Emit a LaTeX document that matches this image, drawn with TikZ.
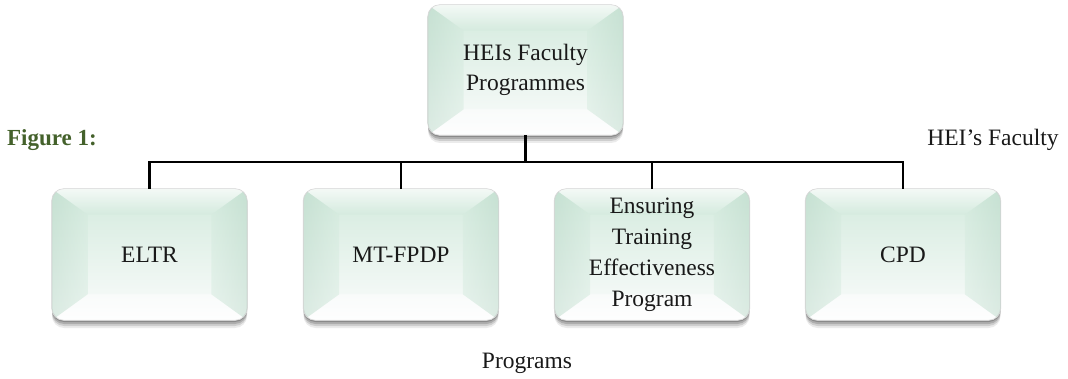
\documentclass[tikz,border=0pt]{standalone}
\usepackage{fontspec}
\setmainfont{Liberation Serif}
\usetikzlibrary{shadows,calc}
\definecolor{mintTop}{HTML}{D3EADD}
\definecolor{mintBot}{HTML}{FBFCFC}
\definecolor{mintSide}{HTML}{B6D6C5}
\definecolor{figgreen}{HTML}{44612B}
\tikzset{
  hbox/.style={rounded corners=12pt, top color=mintTop, bottom color=mintBot,
    draw=black!15, line width=0.6pt, align=center, inner sep=0pt,
    minimum width=195pt, minimum height=131pt,
    font=\fontsize{23.5}{31}\selectfont, text=black!90,
    drop shadow={shadow xshift=0pt, shadow yshift=-8pt, opacity=.08, fill=black},
    drop shadow={shadow xshift=0pt, shadow yshift=-6pt, opacity=.12, fill=black},
    drop shadow={shadow xshift=0pt, shadow yshift=-4pt, opacity=.16, fill=black},
    drop shadow={shadow xshift=0pt, shadow yshift=-2pt, opacity=.20, fill=black}},
  conn/.style={draw=black, line width=2.6pt},
  plain/.style={font=\fontsize{23.5}{28}\selectfont, text=black!90, inner sep=0pt},
  figlabel/.style={font=\fontsize{23}{28}\selectfont\bfseries, text=figgreen, inner sep=0pt}
}
\newcommand{\bevelbox}[1]{%
  \begin{scope}
    \clip[rounded corners=12pt] (#1.south west) rectangle (#1.north east);
    \shade[top color=white, bottom color=mintTop, fill opacity=.75] (#1.north west) -- (#1.north east) -- ($(#1.north east)+(-36,26)$) -- ($(#1.north west)+(36,26)$) -- cycle;
    \shade[top color=mintBot, bottom color=white, fill opacity=.8] (#1.south west) -- (#1.south east) -- ($(#1.south east)+(-36,-26)$) -- ($(#1.south west)+(36,-26)$) -- cycle;
    \shade[left color=mintSide, right color=mintTop, fill opacity=.45] (#1.north west) -- ($(#1.north west)+(36,26)$) -- ($(#1.south west)+(36,-26)$) -- (#1.south west) -- cycle;
    \shade[left color=mintTop, right color=mintSide, fill opacity=.45] (#1.north east) -- ($(#1.north east)+(-36,26)$) -- ($(#1.south east)+(-36,-26)$) -- (#1.south east) -- cycle;
  \end{scope}
  \draw[black!15, line width=0.6pt, rounded corners=12pt] (#1.south west) rectangle (#1.north east);
}
\begin{document}
\begin{tikzpicture}[x=1pt, y=-1pt]
\useasboundingbox (0,0) rectangle (1068,379);
\coordinate (bus) at (0,162);
\node[hbox, minimum height=130pt] (top) at (525.5,70) {};
\node[hbox] (eltr) at (149.5,254.5) {};
\node[hbox] (mt) at (401,254.5) {};
\node[hbox] (etep) at (652,254.5) {};
\node[hbox] (cpd) at (903,254.5) {};
\bevelbox{top}
\bevelbox{eltr}
\bevelbox{mt}
\bevelbox{etep}
\bevelbox{cpd}
\node[plain, align=center, font=\fontsize{23.5}{30.5}\selectfont] (toptext) at (top.center) {HEIs Faculty\\Programmes};
\node[plain] (eltrtext) at (eltr.center) {ELTR};
\node[plain] (mttext) at (mt.center) {MT-FPDP};
\node[plain, align=center, font=\fontsize{23.5}{31}\selectfont] (eteptext) at (etep.center) {Ensuring\\Training\\Effectiveness\\Program};
\node[plain] (cpdtext) at (cpd.center) {CPD};
\draw[conn] (top.south) -- (top.south |- bus);
\draw[conn] ($(eltr.north |- bus)+(-1.3,0)$) -- ($(cpd.north |- bus)+(1.3,0)$);
\draw[conn] (eltr.north |- bus) -- (eltr.north);
\draw[conn] (mt.north |- bus) -- (mt.north);
\draw[conn] (etep.north |- bus) -- (etep.north);
\draw[conn] (cpd.north |- bus) -- (cpd.north);
\node[figlabel] (fig) at (52,140) {Figure 1:};
\node[plain] (hf) at (993,140) {HEI’s Faculty};
\node[plain] (prog) at (527,363) {Programs};
\end{tikzpicture}
\end{document}
